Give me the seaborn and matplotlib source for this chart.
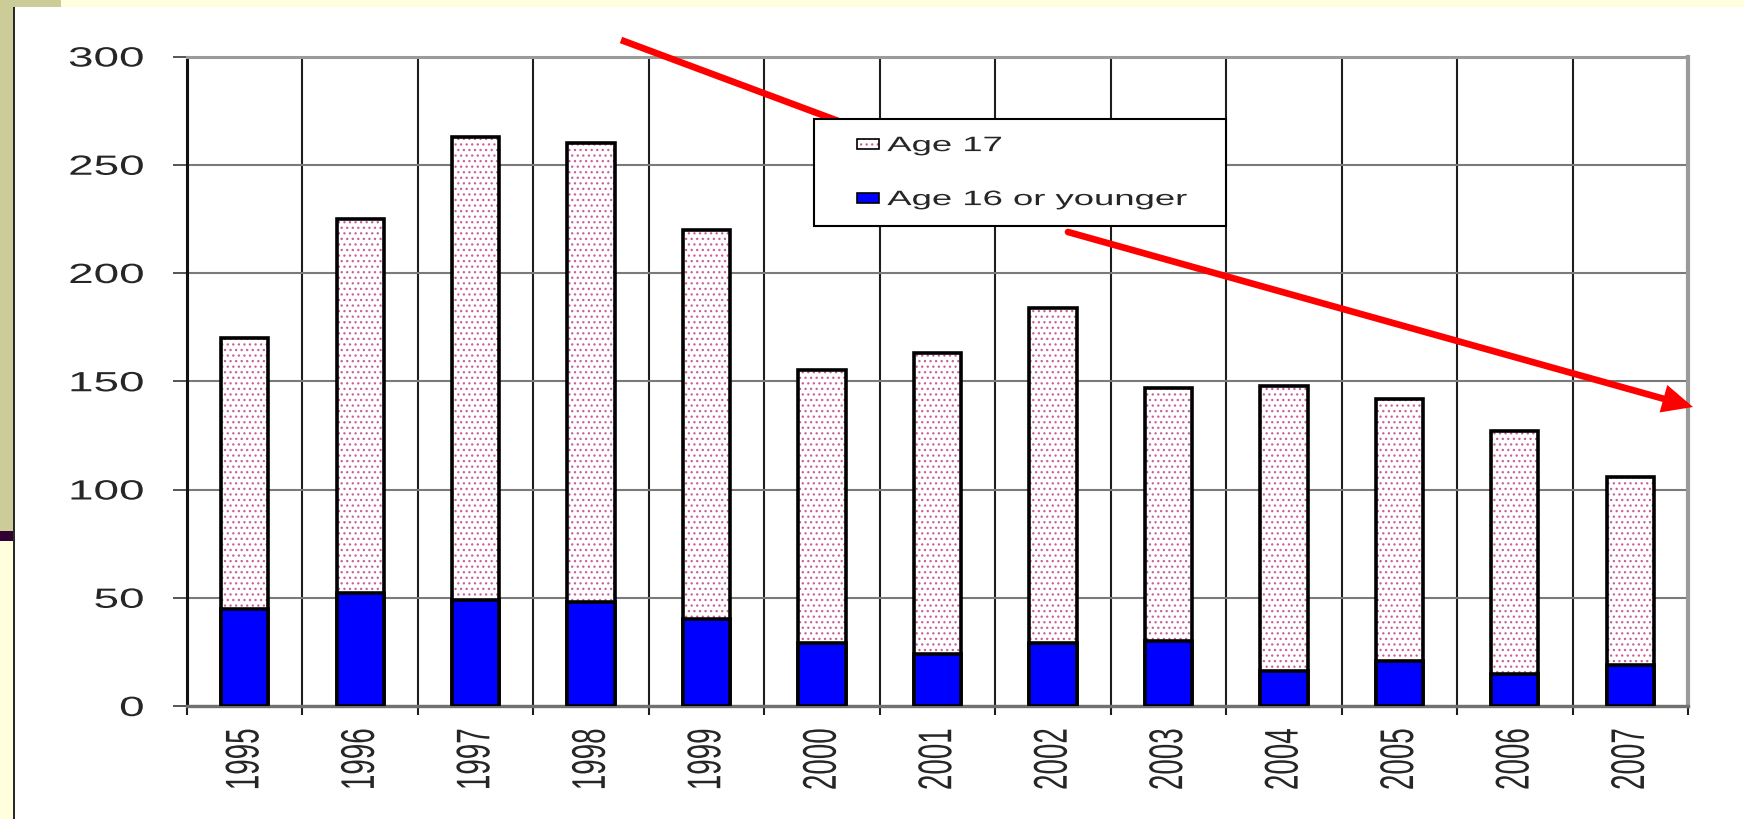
import numpy as np
import pandas as pd
import matplotlib
matplotlib.use("Agg")
import matplotlib.pyplot as plt
import seaborn as sns
from matplotlib.patches import Rectangle
from matplotlib.patheffects import AbstractPathEffect
from matplotlib.transforms import Affine2D
from matplotlib.legend_handler import HandlerPatch
from matplotlib.colors import to_rgba

# ---- data -------------------------------------------------------------
years = ["1995", "1996", "1997", "1998", "1999", "2000", "2001",
         "2002", "2003", "2004", "2005", "2006", "2007"]
age16_or_younger = [45, 52, 49, 48, 40, 29, 24, 29, 30, 16, 21, 15, 19]
age17 = [125, 173, 214, 212, 180, 126, 139, 155, 117, 132, 121, 112, 87]
y_ticks = [0, 50, 100, 150, 200, 250, 300]
series_labels = ["Age 17", "Age 16 or younger"]

df = pd.DataFrame({"year": years,
                   "young": age16_or_younger,
                   "seventeen": age17})
df["total"] = df["young"] + df["seventeen"]

# ---- style ------------------------------------------------------------
sns.set_style("white")
plt.rcParams["font.family"] = ["Liberation Sans", "DejaVu Sans"]
plt.rcParams["hatch.linewidth"] = 0.9

W, H = 1744, 819
fig = plt.figure(figsize=(W / 100, H / 100), dpi=100)
fig.patch.set_facecolor("white")


class Stretch(AbstractPathEffect):
    """Draw text glyphs scaled along the text's own axes around an anchor."""

    def __init__(self, sx=1.0, sy=1.0, fx=0.0, fy=0.0):
        super().__init__()
        self.sx, self.sy, self.fx, self.fy = sx, sy, fx, fy

    def draw_path(self, renderer, gc, tpath, affine, rgbFace=None):
        ext = tpath.get_extents()
        ox = ext.x0 + self.fx * (ext.x1 - ext.x0)
        oy = ext.y0 + self.fy * (ext.y1 - ext.y0)
        local = (Affine2D().translate(-ox, -oy)
                 .scale(self.sx, self.sy).translate(ox, oy))
        renderer.draw_path(gc, tpath, local + affine, rgbFace)


def fig_rect(x0, y0, x1, y1, color):
    """Rectangle given in image pixels (origin top-left)."""
    fig.add_artist(Rectangle((x0 / W, 1 - y1 / H), (x1 - x0) / W,
                             (y1 - y0) / H, transform=fig.transFigure,
                             facecolor=color, edgecolor="none", zorder=-5))


# slide frame around the chart
fig_rect(0, 0, W, 7, "#FFFFDE")
fig_rect(0, 0, 61, 7, "#CCCC99")
fig_rect(0, 0, 13, 531, "#CCCC99")
fig_rect(0, 531, 13, 541, "#330033")
fig_rect(0, 541, 13, H, "#FFFFDE")
fig_rect(13, 7, 15, H, "#2a2a2a")

# ---- axes ---------------------------------------------------------------
ax = fig.add_axes([187 / W, (H - 706) / H, (1688 - 187) / W, (706 - 56.5) / H])
ax.set_facecolor("white")

dot_pink = "#C8609A"
sns.barplot(data=df, x="year", y="total", color="white", saturation=1,
            width=0.41, edgecolor="black", linewidth=2.6, hatch="...",
            errorbar=None, ax=ax, zorder=2)
for p in ax.patches:
    p._hatch_color = to_rgba(dot_pink)
sns.barplot(data=df, x="year", y="young", color="#0000FF", saturation=1,
            width=0.41, edgecolor="black", linewidth=2.6,
            errorbar=None, ax=ax, zorder=3)

ax.set_xlim(-0.5, len(years) - 0.5)
ax.set_ylim(0, 300)
ax.set_yticks(y_ticks)
ax.set_yticklabels([str(v) for v in y_ticks])
ax.set_xticks(np.arange(len(years)))
ax.set_xticklabels(years, rotation=90)
ax.set_xticks(np.arange(len(years) + 1) - 0.5, minor=True)
ax.set_xlabel("")
ax.set_ylabel("")

ax.set_axisbelow(True)
ax.grid(axis="y", which="major", color="#7a7a7a", linewidth=1.5)
ax.grid(axis="x", which="major", visible=False)
ax.grid(axis="x", which="minor", color="#1e1e1e", linewidth=1.5)

ax.tick_params(axis="y", which="major", length=10, width=1.4,
               color="#555555", pad=21, labelsize=20, left=True)
ax.tick_params(axis="x", which="major", length=0, pad=16, labelsize=20,
               bottom=True)
ax.tick_params(axis="x", which="minor", length=6.5, width=1.5,
               color="#1e1e1e", bottom=True)

ax.spines["left"].set_color("#111111")
ax.spines["left"].set_linewidth(2.2)
ax.spines["bottom"].set_color("#707070")
ax.spines["bottom"].set_linewidth(2.4)
ax.spines["top"].set_color("#9a9a9a")
ax.spines["top"].set_linewidth(2.2)
ax.spines["right"].set_color("#9a9a9a")
ax.spines["right"].set_linewidth(3.0)
for s in ax.spines.values():
    s.set_visible(True)

for t in ax.get_yticklabels():
    t.set_path_effects([Stretch(sx=1.65, fx=1.0)])
for t in ax.get_xticklabels():
    t.set_path_effects([Stretch(sy=1.7, fy=0.5)])

# ---- legend -------------------------------------------------------------
h17 = Rectangle((0, 0), 1, 1, facecolor="white", edgecolor="black",
                linewidth=1.2, hatch="...")
h17._hatch_color = to_rgba(dot_pink)
h16 = Rectangle((0, 0), 1, 1, facecolor="#0000FF", edgecolor="black",
                linewidth=1.2)


def swatch(legend, orig_handle, xdescent, ydescent, width, height, fontsize):
    w, h = 15.8, 7.2
    return Rectangle((-xdescent + width - w, -ydescent + (height - h) / 2),
                     w, h)


leg = ax.legend(handles=[h17, h16], labels=series_labels,
                loc="upper left",
                bbox_to_anchor=(814 / W, 1 - 119 / H, (1226 - 814) / W, 0),
                bbox_transform=fig.transFigure, mode="expand",
                fontsize=15, frameon=True, fancybox=False, shadow=False,
                edgecolor="black", framealpha=1, borderpad=0.82,
                labelspacing=1.68, handlelength=2.3, handleheight=0.5,
                handletextpad=0.4, borderaxespad=0,
                handler_map={Rectangle: HandlerPatch(patch_func=swatch)})
leg.get_frame().set_linewidth(1.5)
leg.set_zorder(10)
for t in leg.get_texts():
    t.set_path_effects([Stretch(sx=1.75, fx=0.0)])

# ---- trend arrows -------------------------------------------------------
red = "#FF0000"
ax.annotate("", xy=(900, H - 144), xycoords="figure pixels",
            xytext=(621, H - 40), textcoords="figure pixels",
            annotation_clip=False,
            arrowprops=dict(arrowstyle="-", color=red, lw=4.8,
                            shrinkA=0, shrinkB=0, capstyle="butt"),
            zorder=4)
ax.annotate("", xy=(1693, H - 407), xycoords="figure pixels",
            xytext=(1068, H - 232), textcoords="figure pixels",
            annotation_clip=False,
            arrowprops=dict(arrowstyle="-|>,head_length=14,head_width=6.5",
                            mutation_scale=1, color=red, lw=4.8,
                            shrinkA=0, shrinkB=0, joinstyle="miter"),
            zorder=4)

fig.savefig("out.png", dpi=100, facecolor=fig.get_facecolor())
